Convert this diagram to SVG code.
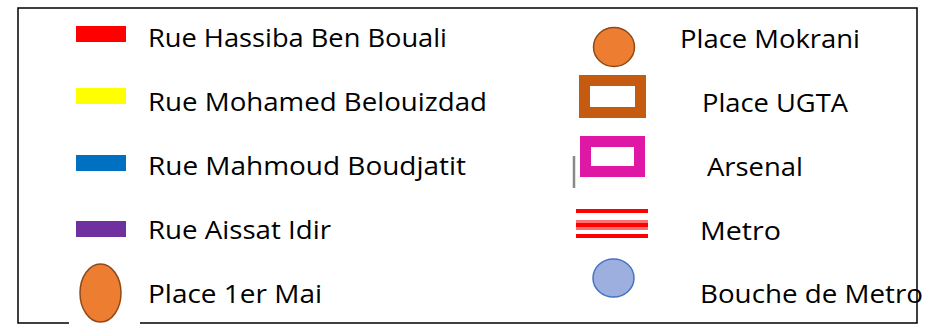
<svg xmlns="http://www.w3.org/2000/svg" width="937" height="331" viewBox="0 0 937 331">
<style>
.t{font-family:"Open Sans","Noto Sans","Liberation Sans",sans-serif;font-size:26px;fill:#000}
.frame{fill:none;stroke:#000;stroke-width:1.5}
</style>
<rect width="937" height="331" fill="#fff"/>
<g id="frame">
<polyline class="frame" points="69,323 18,323 18,8 917,8 917,323 140,323"/>
</g>
<g id="rue-hassiba">
<rect x="76" y="26" width="50" height="16" fill="#FF0000"/>
<text class="t" x="148" y="47" textLength="299" lengthAdjust="spacingAndGlyphs">Rue Hassiba Ben Bouali</text>
</g>
<g id="rue-mohamed">
<rect x="76" y="88" width="50" height="16" fill="#FFFF00"/>
<text class="t" x="148" y="111" textLength="339" lengthAdjust="spacingAndGlyphs">Rue Mohamed Belouizdad</text>
</g>
<g id="rue-mahmoud">
<rect x="76" y="155" width="50" height="16" fill="#0070C0"/>
<text class="t" x="148" y="175" textLength="318" lengthAdjust="spacingAndGlyphs">Rue Mahmoud Boudjatit</text>
</g>
<g id="rue-aissat">
<rect x="76" y="221" width="50" height="16" fill="#7030A0"/>
<text class="t" x="148" y="239" textLength="183" lengthAdjust="spacingAndGlyphs">Rue Aissat Idir</text>
</g>
<g id="place-1er-mai">
<rect x="69" y="260" width="71" height="68" fill="#fff"/>
<ellipse cx="100.5" cy="293" rx="20.5" ry="29" fill="#ED7D31" stroke="#8F4A1A" stroke-width="1.5"/>
<text class="t" x="148" y="303" textLength="174" lengthAdjust="spacingAndGlyphs">Place 1er Mai</text>
</g>
<g id="place-mokrani">
<ellipse cx="614" cy="47" rx="20.5" ry="19.5" fill="#ED7D31" stroke="#8F4A1A" stroke-width="1.5"/>
<text class="t" x="680" y="48" textLength="180" lengthAdjust="spacingAndGlyphs">Place Mokrani</text>
</g>
<g id="place-ugta">
<rect x="584.5" y="80.5" width="56" height="32" fill="#fff" stroke="#C55A11" stroke-width="11"/>
<text class="t" x="702" y="112" textLength="146" lengthAdjust="spacingAndGlyphs">Place UGTA</text>
</g>
<g id="arsenal">
<line x1="574" y1="156" x2="574" y2="188" stroke="#888" stroke-width="2.5"/>
<rect x="585.5" y="141.5" width="54" height="30" fill="#fff" stroke="#DE17A5" stroke-width="11"/>
<text class="t" x="707" y="176" textLength="96" lengthAdjust="spacingAndGlyphs">Arsenal</text>
</g>
<g id="metro">
<line x1="576" y1="211" x2="648" y2="211" stroke="#FF0000" stroke-width="4"/>
<line x1="576" y1="225" x2="648" y2="225" stroke="#FF7070" stroke-width="10"/>
<line x1="576" y1="225" x2="648" y2="225" stroke="#FF0000" stroke-width="4"/>
<line x1="576" y1="236" x2="648" y2="236" stroke="#FF0000" stroke-width="4"/>
<text class="t" x="700" y="240" textLength="81" lengthAdjust="spacingAndGlyphs">Metro</text>
</g>
<g id="bouche-de-metro">
<ellipse cx="613.5" cy="278" rx="20.5" ry="19" fill="#9DAFDF" stroke="#4472C4" stroke-width="1.5"/>
<text class="t" x="700" y="303" textLength="223" lengthAdjust="spacingAndGlyphs">Bouche de Metro</text>
</g>
</svg>
